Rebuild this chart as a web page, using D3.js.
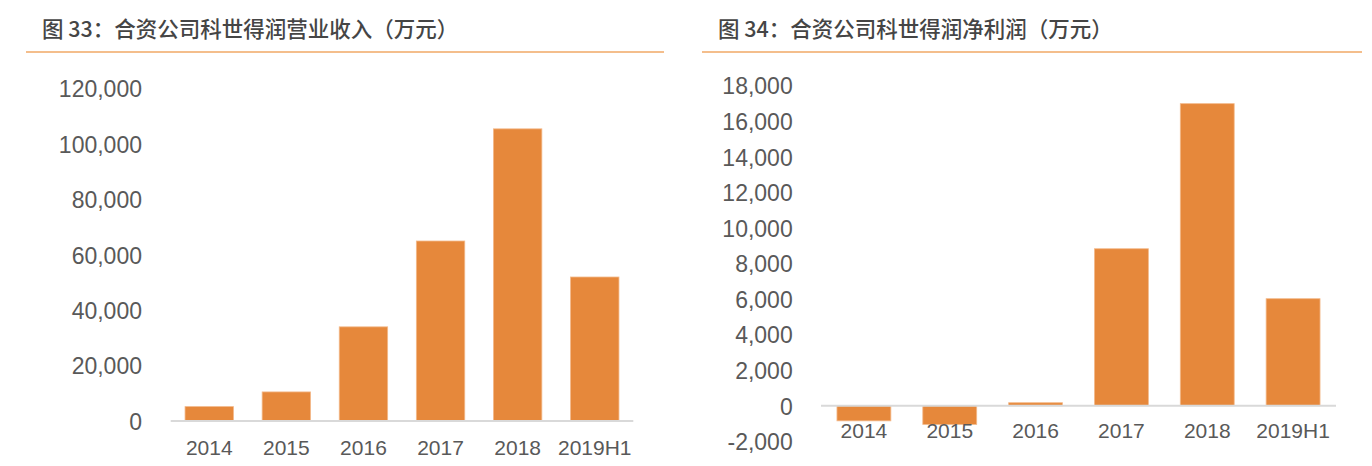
<!DOCTYPE html>
<html>
<head>
<meta charset="utf-8">
<script src="https://cdn.jsdelivr.net/npm/d3@7"></script>
<style>
  html, body { margin: 0; padding: 0; background: #ffffff; }
  svg { display: block; }
</style>
</head>
<body>
<svg id="chart" width="1372" height="466"></svg>
<script>
// ---- data ----
const categories = ["2014", "2015", "2016", "2017", "2018", "2019H1"];
const revenue = [5200, 10500, 34000, 65000, 105500, 52000];      // 营业收入（万元）
const netProfit = [-850, -1050, 170, 8830, 16990, 6020];          // 净利润（万元）
const revenueTicks = [0, 20000, 40000, 60000, 80000, 100000, 120000];
const profitTicks = [-2000, 0, 2000, 4000, 6000, 8000, 10000, 12000, 14000, 16000, 18000];
const title1 = "图 33：合资公司科世得润营业收入（万元）";
const title2 = "图 34：合资公司科世得润净利润（万元）";

const svg = d3.select("#chart");
const fmt = d3.formatLocale({ decimal: ".", thousands: ",", grouping: [3], currency: ["", ""], minus: "-" }).format(",");
const BAR = "#e6883b";
const TEXT = "#595959";

function drawPanel(opt) {
  const g = svg.append("g");
  // title
  g.append("text")
    .attr("x", opt.titleX).attr("y", 37)
    .attr("font-family", "'Noto Sans CJK SC', 'Noto Sans', sans-serif")
    .attr("font-size", 21.5).attr("font-weight", 500)
    .attr("fill", "#454545")
    .text(opt.title);
  g.append("line")
    .attr("x1", opt.ruleX1).attr("x2", opt.ruleX2)
    .attr("y1", 52).attr("y2", 52)
    .attr("stroke", "#f0a866").attr("stroke-width", 1.5);

  const x = d3.scaleBand().domain(categories)
    .range([opt.x0, opt.x1]).paddingInner(0.372).paddingOuter(0.186);
  const y = d3.scaleLinear().domain(opt.domain).range(opt.yRange);

  // y tick labels
  const yAxis = d3.axisLeft(y).tickValues(opt.ticks).tickFormat(fmt).tickSize(0).tickPadding(0);
  const ya = g.append("g").attr("transform", `translate(${opt.labelX},0)`).call(yAxis);
  ya.select(".domain").remove();
  ya.selectAll("text")
    .attr("font-family", "'Liberation Sans', Arial, sans-serif")
    .attr("font-size", 23).attr("fill", TEXT).attr("dy", "0.36em");

  // bars
  g.selectAll("rect.bar").data(opt.values).enter().append("rect")
    .attr("class", "bar")
    .attr("x", (d, i) => x(categories[i]))
    .attr("width", x.bandwidth())
    .attr("y", d => y(Math.max(0, d)))
    .attr("height", d => Math.abs(y(d) - y(0)))
    .attr("fill", BAR)
    .attr("stroke", "#f3b98a").attr("stroke-width", 0.8);

  // zero axis line
  g.append("line")
    .attr("x1", opt.x0).attr("x2", opt.x1)
    .attr("y1", y(0)).attr("y2", y(0))
    .attr("stroke", "#d9d9d9").attr("stroke-width", 2);

  // x labels
  const xAxis = d3.axisBottom(x).tickSize(0).tickPadding(0);
  const xa = g.append("g").attr("transform", `translate(0,${opt.xLabelY})`).call(xAxis);
  xa.select(".domain").remove();
  xa.selectAll("text")
    .attr("font-family", "'Liberation Sans', Arial, sans-serif")
    .attr("font-size", 21).attr("fill", TEXT).attr("dy", 0).attr("y", 0);
}

drawPanel({
  title: title1, titleX: 42, ruleX1: 26, ruleX2: 664,
  x0: 170.7, x1: 633.3,
  domain: [0, 120000], yRange: [421, 88.7],
  ticks: revenueTicks, values: revenue,
  labelX: 142, xLabelY: 455
});

drawPanel({
  title: title2, titleX: 718, ruleX1: 702, ruleX2: 1362,
  x0: 821, x1: 1336,
  domain: [-2000, 18000], yRange: [441.3, 85.7],
  ticks: profitTicks, values: netProfit,
  labelX: 792.7, xLabelY: 438
});
</script>
</body>
</html>
